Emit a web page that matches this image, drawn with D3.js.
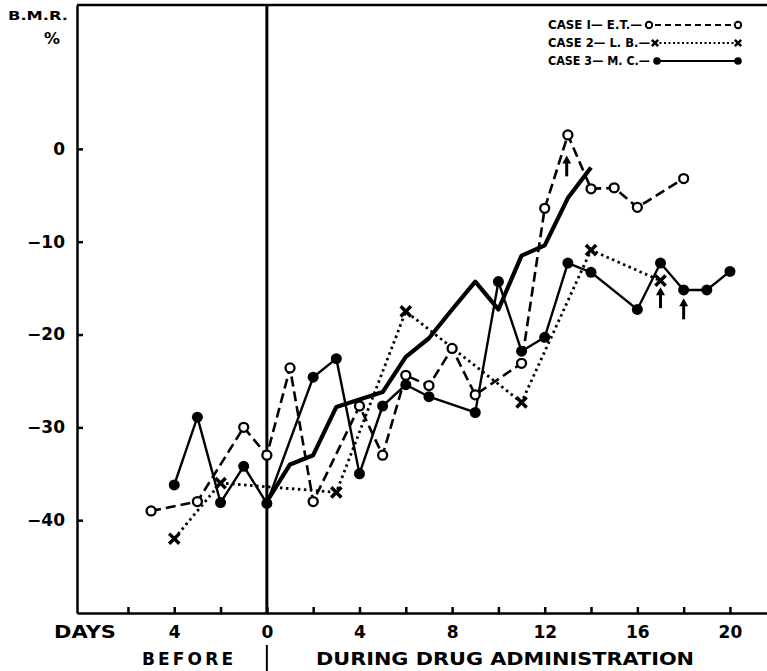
<!DOCTYPE html>
<html>
<head>
<meta charset="utf-8">
<script src="https://cdn.jsdelivr.net/npm/d3@7"></script>
<style>
  body { margin: 0; background: #fff; }
  svg { display: block; font-family: "DejaVu Sans", sans-serif; font-weight: bold; }
</style>
</head>
<body>
<div id="chart"></div>
<script>
// B.M.R. % readings, day 0 = first day of drug
const case1Days = [-5, -3, -1, 0, 1, 2, 4, 5, 6, 7, 8, 9, 11, 12, 13, 14, 15, 16, 18];
const case1Bmr = [-39, -38, -30, -33, -23.6, -38, -27.7, -33, -24.4, -25.5, -21.5, -26.5, -23.1, -6.4, 1.5, -4.3, -4.2, -6.3, -3.2];

const case2Days = [-4, -2, 3, 6, 11, 14, 17];
const case2Bmr = [-42, -36, -37, -17.5, -27.3, -10.9, -14.2];

const case3Days = [-4, -3, -2, -1, 0, 2, 3, 4, 5, 6, 7, 9, 10, 11, 12, 13, 14, 16, 17, 18, 19, 20];
const case3Bmr = [-36.2, -28.9, -38.1, -34.2, -38.2, -24.6, -22.6, -35, -27.7, -25.4, -26.7, -28.4, -14.3, -21.8, -20.3, -12.3, -13.3, -17.3, -12.3, -15.2, -15.2, -13.2];

// heavy unmarked line
const heavyDays = [0, 1, 2, 3, 4, 5, 6, 7, 8, 9, 10, 11, 12, 13, 14];
const heavyBmr = [-38, -34, -33, -27.8, -27, -26.2, -22.4, -20.4, -17.3, -14.3, -17.3, -11.5, -10.4, -5.3, -2];

// little arrows under some readings (tip position)
const arrowDays = [12.95, 17, 18];
const arrowBmr = [-0.7, -14.9, -16.1];

const xTickDays = [-6, -4, -2, 0, 2, 4, 6, 8, 10, 12, 14, 16, 18, 20];
const xLabelDays = [-4, 0, 4, 8, 12, 16, 20];
const yTicks = [0, -10, -20, -30, -40];
const legendLabels = ['CASE I\u2014  E.T.\u2014', 'CASE 2\u2014 L. B.\u2014', 'CASE 3\u2014 M. C.\u2014'];

const width = 767, height = 671;

const x = d3.scaleLinear().domain([-8.2, 21.6]).range([77, 767]);
const y = d3.scaleLinear().domain([15.5, -50]).range([5, 613]);

const svg = d3.select('#chart').append('svg')
  .attr('width', width)
  .attr('height', height);

// axes
const xAxis = svg.append('g')
  .attr('transform', 'translate(0,' + y(-50) + ')')
  .call(d3.axisBottom(x)
    .tickValues(xTickDays)
    .tickSizeInner(-6)
    .tickSizeOuter(0)
    .tickPadding(13)
    .tickFormat(d => xLabelDays.includes(d) ? Math.abs(d) : ''));

const yAxis = svg.append('g')
  .attr('transform', 'translate(' + x(-8.2) + ',0)')
  .call(d3.axisLeft(y)
    .tickValues(yTicks)
    .tickSizeInner(-6)
    .tickSizeOuter(0)
    .tickPadding(12)
    .tickFormat(d => d === 0 ? '0' : '\u2212' + Math.abs(d)));

[xAxis, yAxis].forEach(g => {
  g.attr('font-family', null).attr('font-size', 17);
  g.select('.domain').attr('stroke-width', 2.5);
  g.selectAll('.tick line').attr('stroke-width', 2.5);
  g.selectAll('.tick text').attr('fill', '#000');
});

// top frame line
svg.append('line')
  .attr('x1', x(-8.2)).attr('x2', width)
  .attr('y1', y(15.5)).attr('y2', y(15.5))
  .attr('stroke', '#000').attr('stroke-width', 2.5);

// day 0 divider
svg.append('line')
  .attr('x1', x(0)).attr('x2', x(0))
  .attr('y1', y(15.5)).attr('y2', y(-50))
  .attr('stroke', '#000').attr('stroke-width', 3);
svg.append('line')
  .attr('x1', x(0)).attr('x2', x(0))
  .attr('y1', 645).attr('y2', 671)
  .attr('stroke', '#000').attr('stroke-width', 2);

// axis titles
svg.append('text').attr('x', 38).attr('y', 20).attr('text-anchor', 'middle')
  .attr('font-size', 13).attr('textLength', 60).attr('lengthAdjust', 'spacingAndGlyphs')
  .text('B.M.R.');
svg.append('text').attr('x', 52).attr('y', 44).attr('text-anchor', 'middle')
  .attr('font-size', 16).text('%');
svg.append('text').attr('x', 54).attr('y', 638)
  .attr('font-size', 17).attr('textLength', 62).attr('lengthAdjust', 'spacingAndGlyphs')
  .text('DAYS');
svg.append('text').attr('x', 142).attr('y', 665)
  .attr('font-size', 17).attr('textLength', 91).attr('lengthAdjust', 'spacing')
  .text('BEFORE');
svg.append('text').attr('x', 316).attr('y', 665)
  .attr('font-size', 17).attr('textLength', 378).attr('lengthAdjust', 'spacingAndGlyphs')
  .text('DURING  DRUG  ADMINISTRATION');

const line = d3.line().x(d => x(d[0])).y(d => y(d[1]));

const case1 = d3.zip(case1Days, case1Bmr);
const case2 = d3.zip(case2Days, case2Bmr);
const case3 = d3.zip(case3Days, case3Bmr);
const heavy = d3.zip(heavyDays, heavyBmr);

svg.append('path').attr('d', line(heavy))
  .attr('fill', 'none').attr('stroke', '#000').attr('stroke-width', 4.2)
  .attr('stroke-linejoin', 'round');

svg.append('path').attr('d', line(case3))
  .attr('fill', 'none').attr('stroke', '#000').attr('stroke-width', 2.4);

svg.append('path').attr('d', line(case2))
  .attr('fill', 'none').attr('stroke', '#000').attr('stroke-width', 2.8)
  .attr('stroke-dasharray', '2.5,3.5');

svg.append('path').attr('d', line(case1))
  .attr('fill', 'none').attr('stroke', '#000').attr('stroke-width', 2.6)
  .attr('stroke-dasharray', '10,5');

const xMark = d3.symbol(d3.symbolX, 70);

svg.selectAll('.c3').data(case3).enter().append('circle')
  .attr('cx', d => x(d[0])).attr('cy', d => y(d[1]))
  .attr('r', 5.5).attr('fill', '#000');

svg.selectAll('.c2').data(case2).enter().append('path')
  .attr('transform', d => 'translate(' + x(d[0]) + ',' + y(d[1]) + ')')
  .attr('d', xMark).attr('fill', 'none').attr('stroke', '#000').attr('stroke-width', 3.5);

svg.selectAll('.c1').data(case1).enter().append('circle')
  .attr('cx', d => x(d[0])).attr('cy', d => y(d[1]))
  .attr('r', 4.5).attr('fill', '#fff').attr('stroke', '#000').attr('stroke-width', 2.3);

// arrows
const arrows = svg.selectAll('.arrow').data(d3.zip(arrowDays, arrowBmr)).enter().append('g')
  .attr('transform', d => 'translate(' + x(d[0]) + ',' + y(d[1]) + ')');
arrows.append('line').attr('x1', 0).attr('x2', 0).attr('y1', 5).attr('y2', 21)
  .attr('stroke', '#000').attr('stroke-width', 3);
arrows.append('path').attr('d', 'M0,0L-4.5,8L4.5,8Z').attr('fill', '#000');

// legend
const legendRowY = [25, 43, 61];
const legendTextLen = [94, 102, 102];
const legend = svg.append('g');
legendLabels.forEach((label, i) => {
  legend.append('text').attr('x', 548).attr('y', legendRowY[i] + 4)
    .attr('font-size', 11.5).attr('textLength', legendTextLen[i]).attr('lengthAdjust', 'spacingAndGlyphs')
    .text(label);
});
const lx1 = 655, lx2 = 738;
legend.append('line').attr('x1', lx1).attr('x2', lx2).attr('y1', legendRowY[0]).attr('y2', legendRowY[0])
  .attr('stroke', '#000').attr('stroke-width', 2.2).attr('stroke-dasharray', '6,4');
[lx1 - 6, lx2].forEach(cx => legend.append('circle').attr('cx', cx).attr('cy', legendRowY[0])
  .attr('r', 3.2).attr('fill', '#fff').attr('stroke', '#000').attr('stroke-width', 2));
legend.append('line').attr('x1', lx1).attr('x2', lx2).attr('y1', legendRowY[1]).attr('y2', legendRowY[1])
  .attr('stroke', '#000').attr('stroke-width', 2.2).attr('stroke-dasharray', '2,2.5');
[lx1, lx2].forEach(cx => legend.append('path')
  .attr('transform', 'translate(' + cx + ',' + legendRowY[1] + ')')
  .attr('d', d3.symbol(d3.symbolX, 28)).attr('fill', 'none').attr('stroke', '#000').attr('stroke-width', 2.5));
legend.append('line').attr('x1', lx1 + 2).attr('x2', lx2).attr('y1', legendRowY[2]).attr('y2', legendRowY[2])
  .attr('stroke', '#000').attr('stroke-width', 2.2);
[lx1 + 2, lx2].forEach(cx => legend.append('circle').attr('cx', cx).attr('cy', legendRowY[2])
  .attr('r', 3.8).attr('fill', '#000'));
</script>
</body>
</html>
